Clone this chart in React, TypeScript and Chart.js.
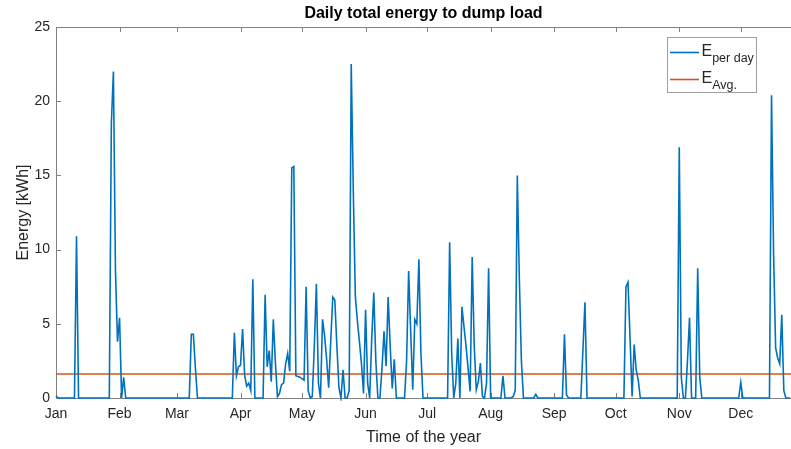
import React, { useEffect, useRef } from "react";
import { Chart, registerables } from "chart.js";

Chart.register(...registerables);

// Month labels and the day-of-year (0 = 1 Jan) each month starts on
const monthLabels = ["Jan", "Feb", "Mar", "Apr", "May", "Jun", "Jul", "Aug", "Sep", "Oct", "Nov", "Dec"];
const monthStartDays = [0, 31, 59, 90, 120, 151, 181, 212, 243, 273, 304, 334];
const yTicks = [0, 5, 10, 15, 20, 25];
const lastDay = 358.5;

// Daily total energy sent to the dump load [kWh], one value per day from 1 Jan
const dailyEnergy = [
  0.15, 0, 0, 0, 0, 0, 0, 0, 0, 0,
  10.9, 0, 0, 0, 0, 0, 0, 0, 0, 0,
  0, 0, 0, 0, 0, 0, 0, 18.5, 22.0, 8.6,
  3.8, 5.4, 0, 1.4, 0, 0, 0, 0, 0, 0,
  0, 0, 0, 0, 0, 0, 0, 0, 0, 0,
  0, 0, 0, 0, 0, 0, 0, 0, 0, 0,
  0, 0, 0, 0, 0, 0, 4.3, 4.3, 2.0, 0,
  0, 0, 0, 0, 0, 0, 0, 0, 0, 0,
  0, 0, 0, 0, 0, 0, 0, 4.4, 1.5, 2.1,
  2.2, 4.65, 1.55, 0.8, 1.0, 0.5, 8.0, 0, 0, 0,
  0, 0, 6.95, 2.1, 3.2, 1.1, 5.3, 2.4, 0.1, 0.3,
  0.9, 1.0, 2.3, 3.0, 1.8, 15.5, 15.6, 1.5, 1.45, 1.4,
  1.3, 1.2, 7.5, 0.5, 0, 0.1, 3.5, 7.7, 1.0, 0,
  5.3, 4.2, 2.6, 0.7, 3.8, 6.8, 6.6, 3.5, 0.7, 0,
  1.9, 0, 0, 0.5, 22.5, 14.0, 6.85, 5.2, 3.8, 2.3,
  0.3, 5.95, 1.0, 0, 4.0, 7.1, 2.5, 0, 0, 2.0,
  4.5, 2.15, 6.8, 3.5, 0.65, 2.6, 0, 0, 0, 0,
  0, 2.5, 8.55, 4.5, 0.55, 5.3, 5.0, 9.35, 3.0, 0,
  0, 0, 0, 0, 0, 0, 0, 0, 0, 0,
  0, 0, 10.5, 3.0, 0, 1.0, 4.0, 0, 6.15, 4.8,
  3.5, 2.0, 0.45, 9.5, 3.5, 0.55, 1.1, 2.35, 0.1, 0,
  1.0, 8.75, 0, 0, 0, 0, 0, 0, 1.5, 0,
  0, 0, 0, 0.1, 0.5, 15.0, 8.0, 2.5, 0, 0,
  0, 0, 0, 0, 0.25, 0, 0, 0, 0, 0,
  0, 0, 0, 0, 0, 0, 0, 0, 4.3, 0.2,
  0, 0, 0, 0, 0, 0, 0, 3.2, 6.45, 0,
  0, 0, 0, 0, 0, 0, 0, 0, 0, 0,
  0, 0, 0, 0, 0, 0, 0, 0, 7.5, 7.8,
  4.0, 0.1, 3.6, 1.9, 1.2, 0, 0, 0, 0, 0,
  0, 0, 0, 0, 0, 0, 0, 0, 0, 0,
  0, 0, 0, 0, 16.9, 1.4, 0, 0, 2.5, 5.4,
  0, 0, 0, 8.75, 1.4, 0, 0, 0, 0, 0,
  0, 0, 0, 0, 0, 0, 0, 0, 0, 0,
  0, 0, 0, 0, 1.05, 0, 0, 0, 0, 0,
  0, 0, 0, 0, 0, 0, 0, 0, 0, 20.4,
  9.75, 3.4, 2.7, 2.3, 5.6, 0.5, 0, 0, 0,
];

// Yearly mean of the daily energy [kWh]
const averageEnergy = 1.62;

const BLUE = "#0072BD";
const ORANGE = "#D95319";
const TEXT = "#262626";
const AXIS = "#808080";
const FONT = "'Liberation Sans', Arial, Helvetica, sans-serif";

const legendEntries = [
  { main: "E", sub: "per day", color: BLUE },
  { main: "E", sub: "Avg.", color: ORANGE },
];

// Axis box (top, left, bottom) with MATLAB-style inward ticks
const axesBoxPlugin = {
  id: "axesBox",
  beforeDatasetsDraw(chart: any) {
    const { ctx, chartArea, scales } = chart;
    const { left, right, top, bottom } = chartArea;
    ctx.save();
    ctx.strokeStyle = AXIS;
    ctx.lineWidth = 1;
    ctx.beginPath();
    ctx.moveTo(left + 0.5, bottom + 0.5);
    ctx.lineTo(left + 0.5, top + 0.5);
    ctx.lineTo(right, top + 0.5);
    ctx.moveTo(left, bottom + 0.5);
    ctx.lineTo(right, bottom + 0.5);
    const tl = 5;
    for (const d of monthStartDays) {
      const x = Math.round(scales.x.getPixelForValue(d)) + 0.5;
      ctx.moveTo(x, bottom);
      ctx.lineTo(x, bottom - tl);
      ctx.moveTo(x, top);
      ctx.lineTo(x, top + tl);
    }
    for (const v of yTicks) {
      const y = Math.round(scales.y.getPixelForValue(v)) + 0.5;
      ctx.moveTo(left, y);
      ctx.lineTo(left + tl, y);
    }
    ctx.stroke();
    ctx.restore();
  },
};

// Title, axis titles and the legend with subscripted labels
const annotationsPlugin = {
  id: "annotations",
  afterDraw(chart: any) {
    const { ctx, chartArea } = chart;
    const { left, right, top, bottom } = chartArea;
    ctx.save();
    ctx.fillStyle = "#000000";
    ctx.textAlign = "center";
    ctx.textBaseline = "alphabetic";
    ctx.font = `bold 16px ${FONT}`;
    ctx.fillText("Daily total energy to dump load", (left + right) / 2, 18);

    ctx.fillStyle = TEXT;
    ctx.font = `16px ${FONT}`;
    ctx.fillText("Time of the year", (left + right) / 2, 442);

    ctx.save();
    ctx.translate(28, (top + bottom) / 2);
    ctx.rotate(-Math.PI / 2);
    ctx.fillText("Energy [kWh]", 0, 0);
    ctx.restore();

    // legend
    const bx = 667.5, by = 37.5, bw = 89, bh = 55;
    ctx.fillStyle = "#ffffff";
    ctx.fillRect(bx, by, bw, bh);
    ctx.strokeStyle = "#a0a0a0";
    ctx.lineWidth = 1;
    ctx.strokeRect(bx, by, bw, bh);
    legendEntries.forEach((e, i) => {
      const ly = 52.5 + i * 27;
      ctx.strokeStyle = e.color;
      ctx.lineWidth = 1.6;
      ctx.beginPath();
      ctx.moveTo(670, ly);
      ctx.lineTo(699, ly);
      ctx.stroke();
      ctx.fillStyle = TEXT;
      ctx.textAlign = "left";
      ctx.font = `16px ${FONT}`;
      ctx.fillText(e.main, 701.5, ly + 3);
      const w = ctx.measureText(e.main).width;
      ctx.font = `12.5px ${FONT}`;
      ctx.fillText(e.sub, 701.5 + w, ly + 9.5);
    });
    ctx.restore();
  },
};

export default function App() {
  const canvasRef = useRef<HTMLCanvasElement | null>(null);

  useEffect(() => {
    const canvas = canvasRef.current;
    if (!canvas) return;
    const chart = new Chart(canvas, {
      type: "line",
      data: {
        datasets: [
          {
            label: "E per day",
            data: dailyEnergy.map((v, i) => ({ x: i, y: v })),
            borderColor: BLUE,
            borderWidth: 1.6,
            pointRadius: 0,
            tension: 0,
            fill: false,
            clip: 3,
          },
          {
            label: "E Avg.",
            data: [
              { x: 0, y: averageEnergy },
              { x: lastDay, y: averageEnergy },
            ],
            borderColor: ORANGE,
            borderWidth: 1.6,
            pointRadius: 0,
            fill: false,
            clip: 3,
          },
        ],
      },
      options: {
        responsive: false,
        animation: false,
        devicePixelRatio: 1,
        layout: { padding: { top: 27, right: 0, left: 0, bottom: 0 } },
        plugins: {
          legend: { display: false },
          title: { display: false },
          tooltip: { enabled: false },
        },
        scales: {
          x: {
            type: "linear",
            min: 0,
            max: lastDay,
            grid: { display: false, drawTicks: false },
            border: { display: false },
            afterBuildTicks: (scale: any) => {
              scale.ticks = monthStartDays.map((d) => ({ value: d }));
            },
            afterFit: (scale: any) => {
              scale.height = 51;
            },
            ticks: {
              autoSkip: false,
              maxRotation: 0,
              padding: 8,
              color: TEXT,
              font: { family: FONT, size: 14 },
              callback: (_v: any, idx: number) => monthLabels[idx],
            },
          },
          y: {
            min: 0,
            max: 25,
            grid: { display: false, drawTicks: false },
            border: { display: false },
            afterBuildTicks: (scale: any) => {
              scale.ticks = yTicks.map((v) => ({ value: v }));
            },
            afterFit: (scale: any) => {
              scale.width = 56;
            },
            ticks: {
              padding: 6,
              color: TEXT,
              font: { family: FONT, size: 14 },
            },
          },
        },
      },
      plugins: [axesBoxPlugin, annotationsPlugin],
    });
    return () => chart.destroy();
  }, []);

  return (
    <div style={{ position: "absolute", left: 0, top: 0, width: 791, height: 449, background: "#ffffff" }}>
      <canvas ref={canvasRef} width={791} height={449} />
    </div>
  );
}
